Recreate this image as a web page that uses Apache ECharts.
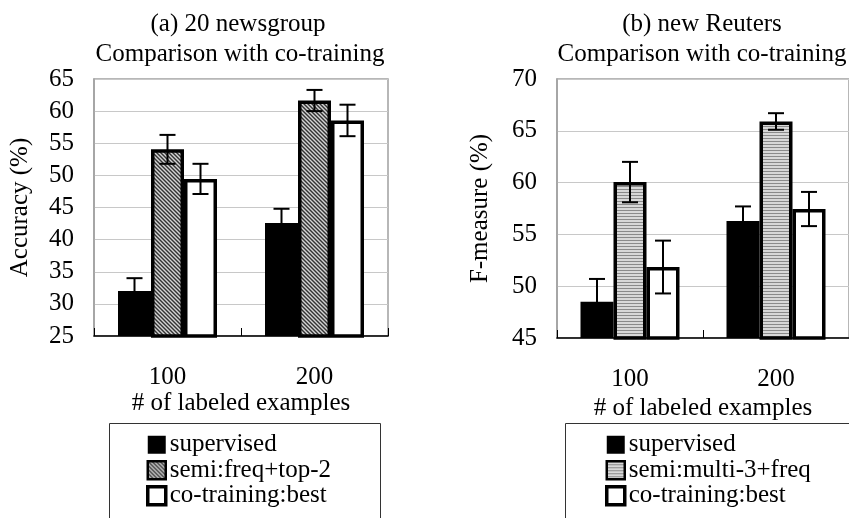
<!DOCTYPE html>
<html>
<head>
<meta charset="utf-8">
<script src="https://cdn.jsdelivr.net/npm/echarts@6/dist/echarts.min.js"></script>
<style>
html,body{margin:0;padding:0;background:#fff;}
#main{width:849px;height:518px;}
</style>
</head>
<body>
<div id="main"></div>
<script>
// data
var categories = ['100', '200'];
// (a) 20 newsgroup, accuracy
var newsSupervised = [32.0, 42.6];
var newsSupervisedErr = [2.0, 2.2];
var newsSemi = [54.05, 61.65];
var newsSemiErr = [2.25, 1.65];
var newsCo = [49.45, 58.55];
var newsCoErr = [2.35, 2.45];
// (b) new Reuters, F-measure
var reutSupervised = [48.5, 56.3];
var reutSupervisedErr = [2.2, 1.4];
var reutSemi = [60.05, 65.9];
var reutSemiErr = [1.95, 0.8];
var reutCo = [51.85, 57.45];
var reutCoErr = [2.55, 1.65];

var FONT = 'Liberation Serif';
var FS = 25;
var BAR_W = 33;

//斜线填充
function diagPattern(){
	var c = document.createElement('canvas');
	c.width = 8; c.height = 8;
	var ctx = c.getContext('2d');
	ctx.fillStyle = '#d4d4d4';
	ctx.fillRect(0,0,8,8);
	ctx.strokeStyle = '#333';
	ctx.lineWidth = 1.4;
	for(var k = -8;k<=8;k+=4){
		ctx.beginPath();
		ctx.moveTo(k-2,-2);
		ctx.lineTo(k+10,10);
		ctx.stroke();
	}
	return {image: c, repeat: 'repeat'};
}
//横线填充
function horizPattern(){
	var c = document.createElement('canvas');
	c.width = 4; c.height = 3;
	var ctx = c.getContext('2d');
	ctx.fillStyle = '#d8d8d8';
	ctx.fillRect(0,0,4,3);
	ctx.fillStyle = '#8a8a8a';
	ctx.fillRect(0,0,4,1);
	return {image: c, repeat: 'repeat'};
}

function barSeries(name, data, idx, fill, border){
	return {
		name: name,
		type: 'bar',
		xAxisIndex: idx,
		yAxisIndex: idx,
		barWidth: BAR_W,
		barGap: '0%',
		data: data,
		itemStyle: {color: fill, borderColor: '#000', borderWidth: border},
		emphasis: {disabled: true}
	};
}

function errSeries(idx, vals, errs, offset){
	var d = [];
	for(var i = 0;i<vals.length;i++){
		d.push([i, vals[i], errs[i], offset]);
	}
	return {
		type: 'custom',
		xAxisIndex: idx,
		yAxisIndex: idx,
		z: 5,
		silent: true,
		data: d,
		renderItem: function(params, api){
			var cat = api.value(0), v = api.value(1), e = api.value(2), off = api.value(3);
			var x = api.coord([cat, v])[0] + off*BAR_W;
			var top = api.coord([cat, v+e])[1];
			var bot = api.coord([cat, v-e])[1];
			var st = {stroke: '#000', lineWidth: 2};
			return {
				type: 'group',
				children: [
					{type: 'line', shape: {x1: x, y1: top, x2: x, y2: bot}, style: st},
					{type: 'line', shape: {x1: x-8, y1: top, x2: x+8, y2: top}, style: st},
					{type: 'line', shape: {x1: x-8, y1: bot, x2: x+8, y2: bot}, style: st}
				]
			};
		}
	};
}

function xAxisCfg(idx, gap){
	return {
		type: 'category',
		gridIndex: idx,
		data: categories,
		name: '# of labeled examples',
		nameLocation: 'middle',
		nameGap: gap,
		nameTextStyle: {fontFamily: FONT, fontSize: FS, color: '#000'},
		axisLine: {lineStyle: {color: '#000', width: 1.5}},
		axisTick: {show: true, inside: true, length: 8, lineStyle: {color: '#000'}},
		axisLabel: {fontFamily: FONT, fontSize: FS, color: '#000', margin: 29}
	};
}

function yAxisCfg(idx, name, min, max, gap){
	return {
		type: 'value',
		gridIndex: idx,
		min: min,
		max: max,
		interval: 5,
		name: name,
		nameLocation: 'middle',
		nameGap: gap,
		nameTextStyle: {fontFamily: FONT, fontSize: FS, color: '#000'},
		axisLine: {show: true, lineStyle: {color: '#a0a0a0', width: 1.5}},
		axisTick: {show: false},
		splitLine: {show: true, lineStyle: {color: '#c8c8c8', width: 1}},
		axisLabel: {fontFamily: FONT, fontSize: FS, color: '#000', margin: 20}
	};
}

function legendCfg(left, semiName){
	return {
		orient: 'vertical', left: left, top: 432, height: 90, padding: 0,
		icon: 'rect', itemWidth: 18, itemHeight: 18, itemGap: 0, selectedMode: false,
		data: [
			{name: 'supervised'},
			{name: semiName, itemStyle: {borderColor: '#000', borderWidth: 2.5}},
			{name: 'co-training:best', itemStyle: {borderColor: '#000', borderWidth: 3.5}}
		],
		textStyle: {fontFamily: FONT, fontSize: 25, lineHeight: 25.5, color: '#000', padding: [0,0,0,-1]}
	};
}

var myChart = echarts.init(document.getElementById('main'));
var diag = diagPattern();
var horiz = horizPattern();
var titleStyle = {fontFamily: FONT, fontSize: FS, fontWeight: 'normal', color: '#000'};

option = {
	animation: false,
	title: [
		{text: '(a) 20 newsgroup', left: 233, top: 7, textAlign: 'center', textStyle: titleStyle},
		{text: 'Comparison with co-training', left: 235, top: 37, textAlign: 'center', textStyle: titleStyle},
		{text: '(b) new Reuters', left: 697, top: 7, textAlign: 'center', textStyle: titleStyle},
		{text: 'Comparison with co-training', left: 697, top: 37, textAlign: 'center', textStyle: titleStyle}
	],
	grid: [
		{left: 94, top: 79, width: 294, height: 257, show: true, borderColor: '#a0a0a0', borderWidth: 1.5, backgroundColor: '#fff'},
		{left: 557, top: 79, width: 292, height: 259, show: true, borderColor: '#a0a0a0', borderWidth: 1.5, backgroundColor: '#fff'}
	],
	legend: [legendCfg(146, 'semi:freq+top-2'), legendCfg(605, 'semi:multi-3+freq')],
	graphic: [
		{type: 'rect', shape: {x: 109.5, y: 423.5, width: 271, height: 120}, style: {fill: 'none', stroke: '#333', lineWidth: 1}, z: -1},
		{type: 'rect', shape: {x: 565.5, y: 423.5, width: 300, height: 120}, style: {fill: 'none', stroke: '#333', lineWidth: 1}, z: -1}
	],
	xAxis: [xAxisCfg(0, 55), xAxisCfg(1, 58)],
	yAxis: [yAxisCfg(0, 'Accuracy (%)', 25, 65, 61), yAxisCfg(1, 'F-measure (%)', 45, 70, 64)],
	series: [
		barSeries('supervised', newsSupervised, 0, '#000', 0),
		barSeries('semi:freq+top-2', newsSemi, 0, diag, 3.5),
		barSeries('co-training:best', newsCo, 0, '#fff', 3.5),
		errSeries(0, newsSupervised, newsSupervisedErr, -1),
		errSeries(0, newsSemi, newsSemiErr, 0),
		errSeries(0, newsCo, newsCoErr, 1),
		barSeries('supervised', reutSupervised, 1, '#000', 0),
		barSeries('semi:multi-3+freq', reutSemi, 1, horiz, 3.5),
		barSeries('co-training:best', reutCo, 1, '#fff', 3.5),
		errSeries(1, reutSupervised, reutSupervisedErr, -1),
		errSeries(1, reutSemi, reutSemiErr, 0),
		errSeries(1, reutCo, reutCoErr, 1)
	]
};
myChart.setOption(option);
</script>
</body>
</html>
